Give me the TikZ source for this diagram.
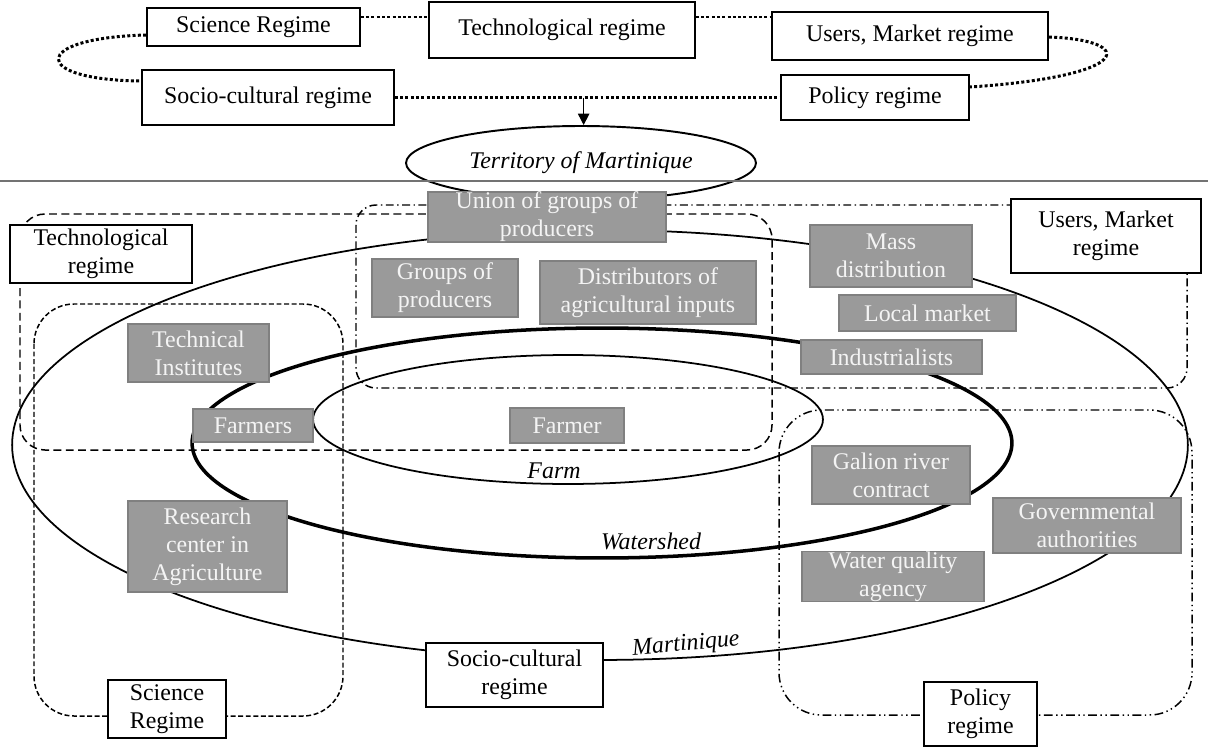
\documentclass[tikz,border=0pt]{standalone}
\usepackage{fontspec}
\setmainfont{Liberation Serif}
\usetikzlibrary{arrows.meta,shapes.geometric}
\definecolor{actorfill}{HTML}{9A9A9A}
\definecolor{actorline}{HTML}{808080}
\definecolor{actortext}{HTML}{F4F4F4}
\begin{document}
\begin{tikzpicture}[x=0.02cm,y=-0.02cm,
    font=\fontsize{13.6}{16}\selectfont,
    regime/.style={draw,line width=1.1pt,fill=white,align=center,inner sep=0pt},
    actor/.style={draw=actorline,line width=1pt,fill=actorfill,text=actortext,align=center,inner sep=0pt},
    dotline/.style={line width=1.7pt,dash pattern=on 1.7pt off 1.3pt},
    area/.style={line width=0.85pt},
    place/.style={font=\fontsize{13.6}{16}\selectfont\itshape}]
  \useasboundingbox (0,0) rectangle (1208,747);
  % regimes around the territory
  \draw
    (253.5,27) node[regime,minimum width=4.26cm,minimum height=0.76cm] (sci){Science Regime}
    (562,30) node[regime,minimum width=5.32cm,minimum height=1.12cm] (tech){Technological regime}
    (910,36) node[regime,minimum width=5.52cm,minimum height=0.96cm] (users){Users, Market regime}
    (268,97.5) node[regime,minimum width=5.04cm,minimum height=1.10cm] (socio){Socio-cultural regime}
    (875,97.5) node[regime,minimum width=3.76cm,minimum height=0.90cm] (policy){Policy regime}
    (581,163) node[ellipse,draw,line width=1.1pt,minimum width=7cm,minimum height=1.48cm,inner sep=0pt,place] (territory){Territory of Martinique};
  \begin{scope}[dotline]
    \draw ([yshift=0.2cm]sci.east) -- ([yshift=0.2cm]sci.east -| tech.west);
    \draw ([yshift=0.26cm]tech.east) -- ([yshift=0.26cm]tech.east -| users.west);
    \draw (socio) -- coordinate[pos=0.49] (split) (policy);
    \draw ([yshift=-0.16cm]sci.west) .. controls (30,38) and (30,80) .. ([yshift=0.33cm]socio.west);
    \draw ([yshift=-0.02cm]users.east) .. controls (1136,40) and (1136,76) .. ([yshift=0.21cm]policy.east);
  \end{scope}
  \draw[-{Triangle[length=6.5pt,width=6.5pt]},line width=0.8pt] (split) -- (split |- territory.north);
  \draw[black!55,line width=0.8pt] (0,181) -- (1208,181);

  % regime areas
  \draw[area,rounded corners=0.5cm,dash pattern=on 4.5pt off 2.5pt] (20,214) rectangle (772,450);
  \draw[area,rounded corners=0.8cm,dash pattern=on 2.8pt off 1.5pt] (34,304) rectangle (343,716);
  \draw[area,rounded corners=0.4cm,dash pattern=on 4.5pt off 2pt on 0.8pt off 2pt] (356,205) rectangle (1187,388);
  \draw[area,rounded corners=0.85cm,dash pattern=on 5pt off 2pt on 0.8pt off 2pt on 0.8pt off 2pt] (779,410) rectangle (1192,715);

  % scales
  \draw[line width=1pt] (600,445) ellipse [x radius=11.76cm,y radius=4.3cm];
  \draw[line width=2pt] (602,443) ellipse [x radius=8.2cm,y radius=2.3cm];
  \draw[line width=1pt] (568,419.5) ellipse [x radius=5.1cm,y radius=1.29cm];
  \draw
    (554,471) node[place] (farm){Farm}
    (651,541) node[place] (watershed){Watershed}
    (686,645) node[place,rotate=5] (martinique){Martinique};

  % actors
  \draw
    (547,217) node[actor,minimum width=4.76cm,minimum height=1.00cm] (union){Union of groups of\\producers}
    (445,288) node[actor,minimum width=2.92cm,minimum height=1.16cm] (groups){Groups of\\producers}
    (648,292.5) node[actor,minimum width=4.32cm,minimum height=1.26cm] (inputs){Distributors of\\agricultural inputs}
    (567,425.5) node[actor,minimum width=2.28cm,minimum height=0.70cm] (farmer){Farmer}
    (891,256) node[actor,minimum width=3.24cm,minimum height=1.24cm] (mass){Mass\\distribution}
    (927.5,313) node[actor,minimum width=3.54cm,minimum height=0.72cm] (local){Local market}
    (891.5,357) node[actor,minimum width=3.62cm,minimum height=0.68cm] (industry){Industrialists}
    (198.5,353) node[actor,minimum width=2.82cm,minimum height=1.16cm] (institutes){Technical\\Institutes}
    (253,425.5) node[actor,minimum width=2.40cm,minimum height=0.66cm] (farmers){Farmers}
    (207.5,546.5) node[actor,minimum width=3.18cm,minimum height=1.82cm] (research){Research\\center in\\Agriculture}
    (891,475) node[actor,minimum width=3.16cm,minimum height=1.16cm] (galion){Galion river\\contract}
    (1087,525.5) node[actor,minimum width=3.76cm,minimum height=1.10cm] (gov){Governmental\\authorities}
    (893,576.5) node[actor,minimum width=3.64cm,minimum height=0.98cm] (water){Water quality\\agency};

  % regime labels
  \draw
    (101,254) node[regime,minimum width=3.64cm,minimum height=1.16cm] (techarea){Technological\\regime}
    (1106,236) node[regime,minimum width=3.80cm,minimum height=1.48cm] (usersarea){Users, Market\\regime}
    (167,709) node[regime,minimum width=2.36cm,minimum height=1.16cm] (sciarea){Science\\Regime}
    (514.5,675) node[regime,minimum width=3.54cm,minimum height=1.28cm] (socioarea){Socio-cultural\\regime}
    (980.5,714) node[regime,minimum width=2.26cm,minimum height=1.28cm] (policyarea){Policy\\regime};
\end{tikzpicture}
\end{document}
